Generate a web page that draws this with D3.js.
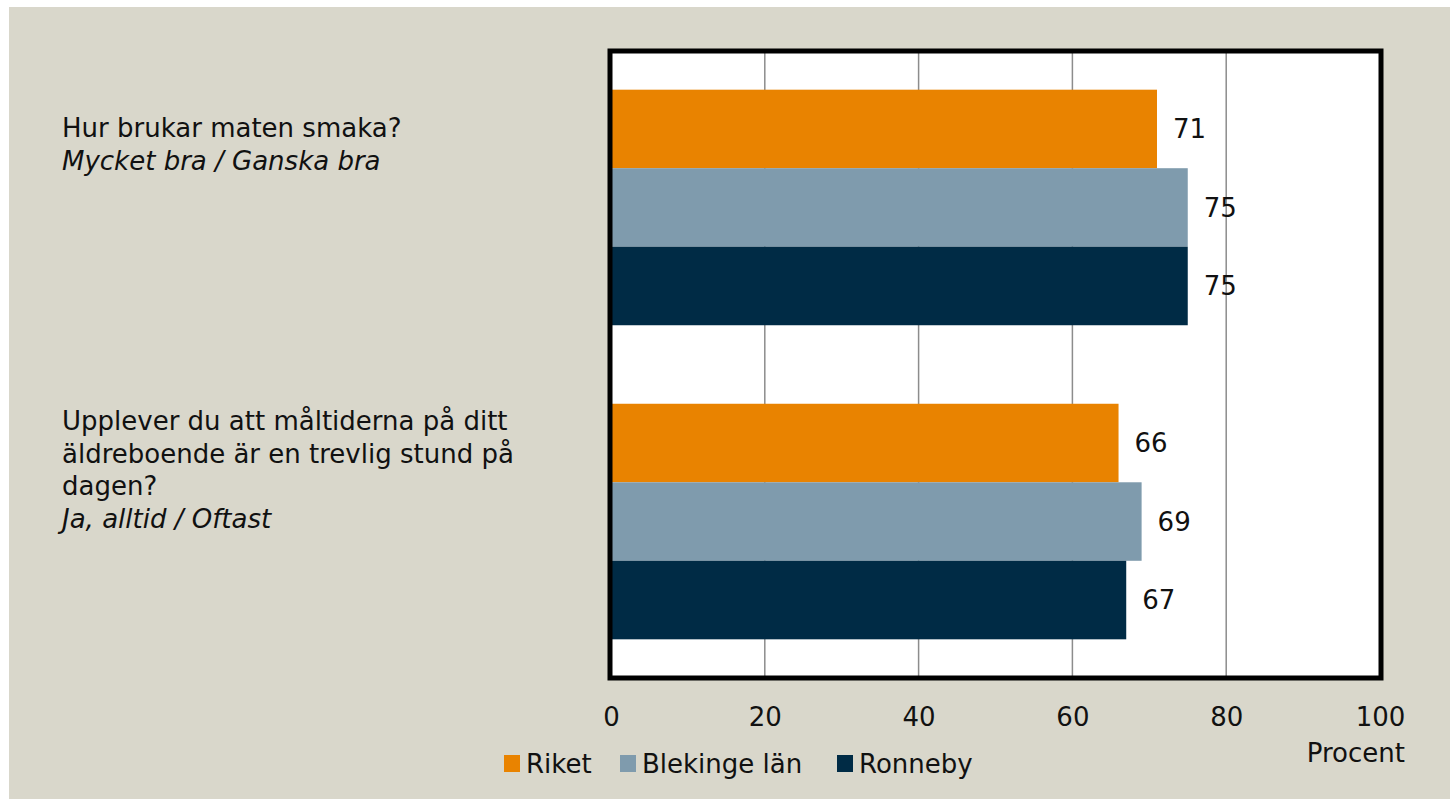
<!DOCTYPE html>
<html><head><meta charset="utf-8">
<script src="https://cdn.jsdelivr.net/npm/d3@7"></script>
<style>html,body{margin:0;padding:0;background:#fff;}svg{display:block;}</style>
</head><body>
<svg id="chart" width="1450" height="799"></svg>
<script>
const categories = ["q1", "q2"];
const categoryLines = [
  [{t:"Hur brukar maten smaka?", i:false},{t:"Mycket bra / Ganska bra", i:true}],
  [{t:"Upplever du att måltiderna på ditt", i:false},{t:"äldreboende är en trevlig stund på", i:false},{t:"dagen?", i:false},{t:"Ja, alltid / Oftast", i:true}]
];
const seriesNames = ["Riket", "Blekinge län", "Ronneby"];
const seriesColors = ["#E98300", "#7F9BAD", "#002B45"];
const riket = [71, 66];
const blekinge = [75, 69];
const ronneby = [75, 67];
const seriesValues = [riket, blekinge, ronneby];
const xTicks = [0, 20, 40, 60, 80, 100];

(function(){
const font = "'DejaVu Sans', sans-serif";
const fs = 26;
const svg = d3.select("#chart");
svg.append("rect").attr("x",9).attr("y",7).attr("width",1441).attr("height",792).attr("fill","#D9D7CB");

const pL = 611, pR = 1380, pT = 52, pB = 677;
const x = d3.scaleLinear().domain([0,100]).range([pL,pR]);
const y0 = d3.scaleBand().domain(categories).range([pT,pB]).paddingInner(0.25).paddingOuter(0.12);
const y1 = d3.scaleBand().domain(seriesNames).range([0,y0.bandwidth()]);

svg.append("rect").attr("x",pL).attr("y",pT).attr("width",pR-pL).attr("height",pB-pT).attr("fill","#fff");

const grid = svg.append("g");
grid.selectAll("line").data(xTicks.slice(1,-1)).join("line")
  .attr("x1",d=>x(d)).attr("x2",d=>x(d)).attr("y1",pT).attr("y2",pB)
  .attr("stroke","#8c8c8c").attr("stroke-width",1.5);

const groups = svg.append("g").selectAll("g").data(categories).join("g")
  .attr("transform",d=>`translate(0,${y0(d)})`);
groups.each(function(c,ci){
  const g = d3.select(this);
  seriesNames.forEach((s,si)=>{
    const v = seriesValues[si][ci];
    g.append("rect").attr("x",x(0)).attr("y",y1(s)).attr("width",x(v)-x(0)).attr("height",y1.bandwidth())
      .attr("fill",seriesColors[si]);
    g.append("text").attr("x",x(v)+16).attr("y",y1(s)+y1.bandwidth()/2).attr("dy","0.36em")
      .attr("font-family",font).attr("font-size",fs).attr("fill","#111").text(v);
  });
});

svg.append("rect").attr("x",pL-1).attr("y",pT-1).attr("width",pR-pL+2).attr("height",pB-pT+2)
  .attr("fill","none").attr("stroke","#000").attr("stroke-width",5);

const axis = d3.axisBottom(x).tickValues(xTicks).tickSize(0).tickPadding(0);
const ag = svg.append("g").attr("transform",`translate(0,726)`).call(axis);
ag.select(".domain").remove();
ag.selectAll("text").attr("font-family",font).attr("font-size",fs).attr("fill","#111").attr("dy","0").attr("y",0);

svg.append("text").attr("x",1405).attr("y",762).attr("text-anchor","end")
  .attr("font-family",font).attr("font-size",fs).attr("fill","#111").text("Procent");

const starts = [137, 430];
const spacing = [33, 32.5];
categoryLines.forEach((lines,ci)=>{
  lines.forEach((l,li)=>{
    svg.append("text").attr("x",62).attr("y",starts[ci]+li*spacing[ci])
      .attr("font-family",font).attr("font-size",fs).attr("font-style",l.i?"italic":"normal")
      .attr("fill","#111").text(l.t);
  });
});

const legendX = [504, 620, 837];
const lg = svg.append("g");
seriesNames.forEach((s,i)=>{
  lg.append("rect").attr("x",legendX[i]).attr("y",755).attr("width",16).attr("height",17).attr("fill",seriesColors[i]);
  lg.append("text").attr("x",legendX[i]+22).attr("y",773).attr("font-family",font).attr("font-size",fs).attr("fill","#111").text(s);
});
})();
</script>
</body></html>
